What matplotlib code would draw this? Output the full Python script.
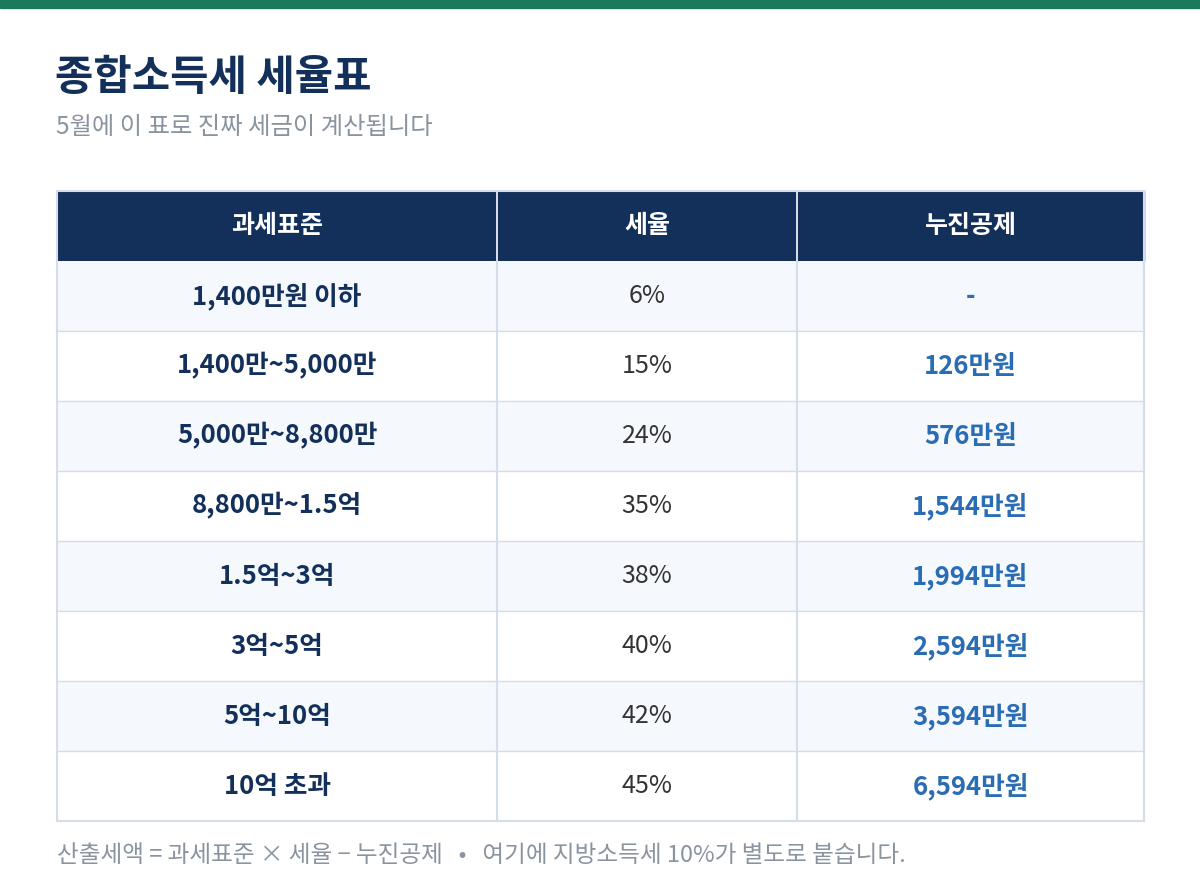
import matplotlib
matplotlib.use("Agg")
import matplotlib.pyplot as plt
from matplotlib.patches import Rectangle

plt.rcParams['font.family'] = ['Noto Sans CJK KR', 'DejaVu Sans']

title = "종합소득세 세율표"
subtitle = "5월에 이 표로 진짜 세금이 계산됩니다"
headers = ["과세표준", "세율", "누진공제"]
brackets = ["1,400만원 이하", "1,400만~5,000만", "5,000만~8,800만", "8,800만~1.5억",
            "1.5억~3억", "3억~5억", "5억~10억", "10억 초과"]
rates = ["6%", "15%", "24%", "35%", "38%", "40%", "42%", "45%"]
deductions = ["-", "126만원", "576만원", "1,544만원", "1,994만원", "2,594만원", "3,594만원", "6,594만원"]
footnote = "산출세액 = 과세표준 × 세율 − 누진공제   •   여기에 지방소득세 10%가 별도로 붙습니다."

fig = plt.figure(figsize=(12, 8.84), dpi=100)
ax = fig.add_axes([0, 0, 1, 1])
ax.set_xlim(0, 1200); ax.set_ylim(884, 0); ax.axis('off')

ax.add_patch(Rectangle((0, 0), 1200, 8, color='#1b7a5c'))
ax.text(55, 78, title, fontsize=30, fontweight='bold', color='#13305a', va='center')
ax.text(56, 127, subtitle, fontsize=17.5, color='#8a94a0', va='center')

cols = [57, 497, 797, 1144]
top, hh, rh = 191, 70, 70
grid = '#d5dde8'
ax.add_patch(Rectangle((cols[0], top), cols[-1]-cols[0], hh, color='#13305a'))
for j, h in enumerate(headers):
    ax.text((cols[j]+cols[j+1])/2, top+hh/2, h, fontsize=18, fontweight='bold', color='white', ha='center', va='center')
for x in cols[1:-1]:
    ax.plot([x, x], [top, top+hh], color='white', lw=1.2)
for i in range(len(brackets)):
    y = top + hh + i*rh
    ax.add_patch(Rectangle((cols[0], y), cols[-1]-cols[0], rh, facecolor='#f5f8fc' if i % 2 == 0 else 'white', edgecolor='none'))
    cy = y + rh/2
    ax.text((cols[0]+cols[1])/2, cy, brackets[i], fontsize=18.5, fontweight='bold', color='#13305a', ha='center', va='center')
    ax.text((cols[1]+cols[2])/2, cy, rates[i], fontsize=18, color='#333333', ha='center', va='center')
    ax.text((cols[2]+cols[3])/2, cy, deductions[i], fontsize=18.5, fontweight='bold', color='#2a6db5', ha='center', va='center')
    if i > 0:
        ax.plot([cols[0], cols[-1]], [y, y], color=grid, lw=1)
bottom = top + hh + len(brackets)*rh
for x in cols:
    ax.plot([x, x], [top+hh, bottom], color=grid, lw=1.5)
ax.plot([cols[0], cols[-1]], [bottom, bottom], color=grid, lw=1.5)
ax.plot([cols[0], cols[-1]], [top, top], color=grid, lw=1.5)
for x in (cols[0], cols[-1]):
    ax.plot([x, x], [top, top+hh], color=grid, lw=1.5)

ax.text(57, 855, footnote, fontsize=17, color='#8a94a0', va='center')
fig.savefig('out.png', dpi=100)
